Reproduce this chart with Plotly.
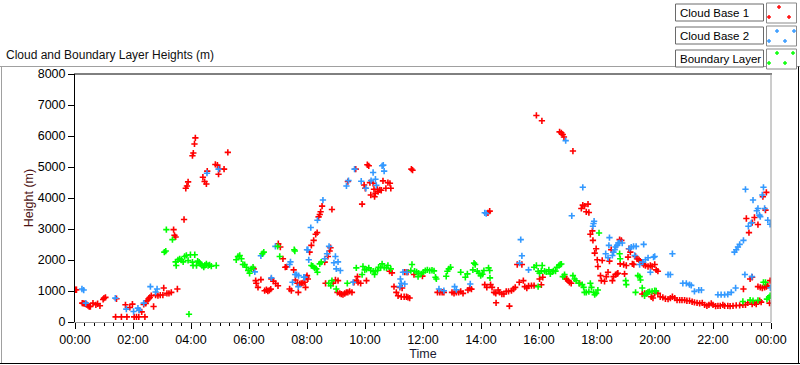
import plotly.graph_objects as go

# ---------------- data (hours since 00:00, height in metres) ----------------
cb1_pts = [
(0.02,1040),(0.05,1040),
(0.25,610),(0.29,600),(0.33,590),(0.37,580),(0.41,560),(0.45,530),(0.49,500),(0.53,500),
(0.62,610),(0.72,555),(0.78,588),(0.86,523),(0.97,728),(1.0,770),(1.05,793),
(1.4,165),(1.43,750),(1.6,165),(1.74,555),(1.79,165),(1.89,469),(1.98,577),(2.04,165),(2.12,165),
(2.2,165),(2.3,328),(2.37,566),(2.41,165),(2.44,600),(2.48,685),(2.53,740),(2.58,790),(2.63,847),
(2.71,500),(2.78,870),(2.86,850),(2.94,870),(3.03,870),(3.06,1096),(3.17,923),(3.24,923),(3.32,956),
(3.4,2981),(3.43,2797),(3.47,2743),(3.53,1064),(3.76,3306),(3.82,4313),(3.86,4389),(3.9,4519),
(4.05,5364),(4.08,5450),(4.12,5743),(4.15,5938),(4.41,4670),(4.47,4530),(4.53,4454),(4.56,4866),
(4.84,5082),(4.91,5060),(4.95,4768),(4.99,4930),(5.14,4930),(5.27,5472),
(6.16,1714),(6.23,1335),(6.25,1248),(6.31,1118),(6.41,1367),(6.54,1010),(6.6,1040),(6.65,1000),
(6.7,1020),(6.75,1060),(6.77,1390),(6.84,1320),(6.92,1240),(7.0,1170),(7.01,2526),(7.08,2418),
(7.17,2039),(7.25,1768),(7.3,1780),(7.4,1064),(7.46,1010),(7.54,1681),(7.6,1357),(7.67,1248),
(7.7,955),(7.75,1227),(7.8,1248),(7.86,1260),(7.92,1281),(7.95,1118),(7.98,1443),(8.0,1497),
(8.03,1389),(8.09,2255),(8.15,2472),(8.23,2634),(8.3,2829),(8.35,2883),(8.4,3392),(8.44,3468),
(8.47,3555),(8.52,3739),(8.61,1930),(8.64,1248),(8.72,2115),(8.78,2288),(8.81,2396),(8.86,3631),
(8.9,1248),(8.98,1357),(9.05,955),(9.07,1335),(9.13,923),(9.18,900),(9.24,880),(9.3,920),(9.36,955),
(9.41,4530),(9.41,955),(9.47,988),(9.55,955),(9.62,1281),(9.68,4930),(9.7,1335),(9.74,1465),
(9.76,1281),(9.85,1248),(9.9,3804),(9.97,4421),(10.01,4313),(10.05,1335),(10.08,5072),(10.13,5039),
(10.17,4497),(10.2,4097),(10.28,4475),(10.31,4280),(10.33,4042),(10.36,4151),(10.43,4280),
(10.45,4205),(10.51,4259),(10.56,4250),(10.62,4551),(10.72,4313),(10.79,4497),(10.85,1638),
(10.86,4475),(10.89,4313),(10.93,1584),(11.0,1140),(11.08,955),(11.14,847),(11.2,1118),(11.25,815),
(11.28,1096),(11.35,815),(11.37,1606),(11.43,1606),(11.43,815),(11.48,793),(11.48,1606),(11.54,772),
(11.6,4930),(11.64,4897),(11.69,1530),(11.98,1480),
(12.5,955),(12.58,955),(12.66,960),(12.72,955),(13.0,955),(13.07,923),(13.15,955),(13.23,955),
(13.3,988),(13.38,923),(13.55,1031),(13.61,1085),(13.67,1060),(14.13,1205),(14.2,1118),(14.24,3523),
(14.3,3577),(14.33,1205),(14.38,1118),(14.45,955),(14.51,923),(14.52,620),(14.59,1031),(14.64,955),
(14.72,901),(14.79,901),(14.87,988),(14.95,988),(14.98,512),(15.05,1010),(15.12,1064),(15.18,1118),
(15.25,1855),(15.32,1281),(15.41,1855),(15.46,1335),(15.51,1140),(15.58,1096),(15.64,1161),
(15.74,1172),(15.83,1172),(15.91,6663),(16.02,1389),(16.08,1200),(16.1,6490),(16.13,1443),
(16.71,6132),(16.77,6100),(16.82,6050),(16.86,5970),(16.88,1465),(16.94,1389),(17.0,1335),
(17.05,1281),(17.11,1248),(17.17,5515),(17.4,1248),(17.46,3663),(17.51,3771),(17.57,3740),
(17.63,3555),(17.69,3804),(17.72,3533),(17.77,2829),(17.84,2938),(17.86,2634),(17.92,2223),
(17.97,2364),(18.01,2006),(18.03,1790),(18.12,1497),(18.15,1335),(18.18,1985),(18.26,1313),
(18.32,1465),(18.38,1606),(18.43,1963),(18.49,2331),(18.53,1335),(18.57,1465),(18.64,1530),
(18.69,1550),(18.72,1573),(18.78,2656),(18.8,1876),(18.84,2634),(18.92,1855),(18.95,1552),
(19.01,1822),(19.07,2093),(19.1,2364),(19.15,2255),(19.22,1876),(19.27,1855),(19.33,2115),
(19.38,2039),(19.45,2006),(19.49,1963),(19.56,1898),(19.56,901),(19.61,1855),(19.64,923),
(19.67,1822),(19.72,923),(19.76,1790),(19.84,1822),(19.87,815),(19.9,1790),(19.93,772),(19.99,1855),
(19.99,923),(20.04,1681),(20.1,1638),(20.1,923),(20.18,815),(20.27,793),(20.36,750),(20.45,739),
(20.53,772),(20.6,815),(20.68,772),(20.76,707),(20.85,707),(20.93,707),(21.02,707),(21.1,685),
(21.19,685),(21.28,653),(21.36,631),(21.45,620),(21.54,598),(21.63,620),(21.71,555),(21.79,523),
(21.86,555),(21.94,598),(22.0,555),(22.09,512),(22.17,523),(22.25,523),(22.34,555),(22.4,523),
(22.51,523),(22.59,512),(22.69,523),(22.8,534),(22.92,534),(23.03,555),(23.05,1064),(23.12,555),
(23.15,3338),(23.2,620),(23.24,2883),(23.28,1389),(23.35,1443),(23.35,577),(23.35,3208),(23.43,3371),
(23.43,620),(23.49,577),(23.55,1140),(23.55,3143),(23.61,685),(23.63,1120),(23.66,642),(23.7,1096),
(23.72,4042),(23.78,1118),(23.81,3609),(23.84,4183),(23.84,1140),(23.89,1172),(23.95,609),(23.97,1335),
]

cb2_pts = [
(0.24,1064),(0.3,1031),(0.37,609),(1.39,770),(1.77,414),(2.02,338),(2.17,447),(2.21,382),(2.37,609),
(2.6,1140),(2.78,966),(2.83,1064),(4.55,4800),(4.95,4930),(6.2,1616),(6.41,2136),(6.77,1422),
(6.91,2440),(7.4,1855),(7.43,1940),(7.5,1281),(7.59,1530),(7.64,1530),(7.7,1140),(7.71,1497),
(7.89,1443),(7.92,1443),(8.0,2331),(8.03,2331),(8.06,2006),(8.13,3046),(8.36,3284),(8.55,3934),
(8.61,2039),(8.69,2201),(8.76,2440),(8.93,1909),(8.98,2115),(9.01,1714),(9.07,1941),(9.15,1660),
(9.36,4389),(9.43,4562),(9.59,1281),(9.64,4930),(9.87,4540),(10.03,4313),(10.21,4562),(10.28,4822),
(10.36,4605),(10.39,4410),(10.59,5039),(10.63,5060),(10.66,4866),(11.2,1140),(11.22,1389),
(11.25,1248),(11.31,1606),(11.37,1227),(11.45,1606),(12.55,1064),(12.72,1010),(13.09,1140),
(13.15,1042),(13.63,1227),(14.13,3523),(14.18,3500),(15.33,1898),(15.37,2656),(15.41,2136),
(15.64,1681),(16.92,5851),(17.13,3425),(17.51,4345),(17.86,3089),(17.88,3176),(17.9,3250),
(18.3,2201),(18.38,2071),(18.41,2472),(18.43,2721),(18.53,2147),(18.57,2255),(18.61,2331),
(18.64,2418),(18.69,2472),(18.73,2548),(18.78,2560),(18.87,2548),(19.12,2364),(19.18,2418),
(19.26,2440),(19.3,2147),(19.35,2440),(19.47,1855),(19.58,1930),(19.61,2505),(19.67,2006),
(19.76,2071),(19.84,1606),(19.95,2093),(19.99,2115),(20.45,1530),(20.53,1530),(20.6,2201),
(20.96,1248),(21.08,1248),(21.19,1205),(21.25,1180),(21.36,988),(21.51,1031),(21.6,1031),
(22.17,880),(22.28,880),(22.4,880),(22.51,890),(22.63,955),(22.74,2255),(22.78,1096),(22.8,2331),
(22.86,2418),(22.92,2505),(23.05,2634),(23.1,1530),(23.12,4280),(23.22,3089),(23.32,3197),
(23.34,1465),(23.38,3934),(23.51,3588),(23.55,3663),(23.6,3447),(23.63,3400),(23.7,4097),
(23.74,4345),(23.78,3663),(23.89,3284),(23.97,3154),(23.98,1105),
]

bl_pts = [
(3.08,2255),(3.13,2288),(3.15,2981),(3.36,2656),(3.47,1941),(3.49,1822),(3.55,2006),(3.61,2039),
(3.67,2000),(3.73,1941),(3.78,2115),(3.84,2147),(3.9,1985),(3.93,252),(3.98,2169),(4.05,1930),
(4.07,1822),(4.13,2169),(4.19,1822),(4.23,1963),(4.28,1930),(4.32,1876),(4.38,1822),(4.44,1768),
(4.48,1830),(4.53,1876),(4.59,1822),(4.64,1840),(4.7,1800),(4.87,1822),(5.56,2006),(5.62,2115),
(5.68,2147),(5.74,2039),(5.79,1855),(5.85,1850),(5.91,1768),(5.97,1660),(6.02,1573),(6.08,1714),
(6.14,1768),(6.46,2201),(6.51,2255),(6.99,2440),(7.06,2115),(7.56,2331),(7.58,2290),(8.15,1822),
(8.2,1800),(8.26,1746),(8.32,1714),(8.36,1606),(8.44,1876),(8.49,1930),(8.75,1248),(8.82,1172),
(8.86,1335),(9.01,1064),(9.39,1248),(9.7,1746),(9.9,1530),(9.93,1790),(9.99,1681),(10.05,1700),
(10.13,1746),(10.2,1660),(10.28,1638),(10.33,1530),(10.36,1650),(10.43,1660),(10.47,1768),
(10.54,1750),(10.59,1876),(10.66,1760),(10.74,1750),(10.79,1822),(10.89,1714),(11.58,1660),
(11.62,1855),(11.71,1638),(11.78,1616),(11.83,1465),(11.85,1573),(11.94,1552),(12.01,1606),
(12.08,1660),(12.15,1681),(12.23,1660),(12.31,1670),(12.38,1650),(12.43,1443),(12.46,1389),
(12.8,1476),(12.84,1638),(12.89,1714),(12.95,1768),(13.3,1606),(13.46,1443),(13.53,1552),
(13.72,1681),(13.76,1898),(13.8,1855),(13.87,1638),(13.93,1573),(13.99,1497),(14.05,1540),
(14.1,1660),(14.26,1746),(14.3,1660),(14.31,1422),(15.83,1768),(15.91,1822),(15.97,1638),
(15.97,1140),(16.02,1573),(16.08,1650),(16.11,1822),(16.19,1640),(16.25,1620),(16.34,1681),
(16.39,1552),(16.46,1620),(16.5,1650),(16.57,1640),(16.62,1768),(16.69,1822),(16.73,1855),
(16.77,1870),(16.82,1465),(16.88,1530),(17.17,1497),(17.23,1389),(17.28,1330),(17.38,1248),
(17.49,1205),(17.54,1118),(17.57,955),(17.63,955),(17.72,980),(17.77,1248),(17.81,1118),(17.88,955),
(17.92,880),(17.97,923),(18.03,1031),(18.07,2873),(18.78,2201),(18.8,2039),(18.99,1335),(19.01,1205),
(19.33,955),(19.41,1497),(19.47,1465),(19.5,1357),(19.56,1096),(19.64,847),(19.7,923),(19.76,960),
(19.81,980),(19.9,988),(19.99,1010),(20.04,1000),(23.03,663),(23.28,707),(23.38,685),(23.55,700),
(23.74,1281),(23.81,1281),(23.86,739),(23.93,793),(23.97,847),
]

series_names = ["Cloud Base 1", "Cloud Base 2", "Boundary Layer"]
series_colors = ["#ff0000", "#3399ff", "#00ff00"]
x_tick_vals = [0, 2, 4, 6, 8, 10, 12, 14, 16, 18, 20, 22, 24]
x_tick_text = ["00:00", "02:00", "04:00", "06:00", "08:00", "10:00", "12:00",
               "14:00", "16:00", "18:00", "20:00", "22:00", "00:00"]
y_tick_vals = [0, 1000, 2000, 3000, 4000, 5000, 6000, 7000, 8000]

# ---------------- figure ----------------
W, H = 800, 365
L, R, T, B = 75, 29, 74, 43
PW, PH = W - L - R, H - T - B

def px(x):
    return (x - L) / PW

def py(y):
    return (H - B - y) / PH

fig = go.Figure()
for pts, name, col in zip([cb1_pts, cb2_pts, bl_pts], series_names, series_colors):
    fig.add_trace(go.Scatter(
        x=[p[0] for p in pts], y=[p[1] for p in pts], mode="markers", name=name,
        marker=dict(symbol="cross-thin", size=4.5, color=col, line=dict(width=1.6, color=col)),
        showlegend=False))

FONT = "Liberation Sans, Arial, sans-serif"
shapes = []
# plot frame: top/left black, right/bottom grey
shapes.append(dict(type="line", xref="paper", yref="paper", x0=px(74), x1=px(772), y0=1, y1=1,
                   line=dict(color="#000000", width=1)))
shapes.append(dict(type="line", xref="paper", yref="paper", x0=1, x1=1, y0=0, y1=1,
                   line=dict(color="#9a9a9a", width=1)))
# outer panel
shapes.append(dict(type="line", xref="paper", yref="paper", x0=px(0), x1=px(800), y0=py(66.5), y1=py(66.5),
                   line=dict(color="#a0a0a0", width=1)))
shapes.append(dict(type="line", xref="paper", yref="paper", x0=px(1.5), x1=px(1.5), y0=py(66.5), y1=py(364),
                   line=dict(color="#a0a0a0", width=1)))
shapes.append(dict(type="line", xref="paper", yref="paper", x0=px(798.5), x1=px(798.5), y0=py(66.5), y1=py(364),
                   line=dict(color="#000000", width=1)))
shapes.append(dict(type="line", xref="paper", yref="paper", x0=px(0), x1=px(800), y0=py(363.5), y1=py(363.5),
                   line=dict(color="#000000", width=1)))

annotations = []
# legend boxes
rows = [(4, 21), (27, 44), (50, 67)]
cross_pos = [
    [(779, 7), (769, 17), (789, 17)],
    [(777, 31), (794, 31), (769, 41), (785, 41)],
    [(777, 53), (793, 53), (769, 63), (785, 63)],
]
for (y0, y1), name, col, crosses in zip(rows, series_names, series_colors, cross_pos):
    shapes.append(dict(type="rect", xref="paper", yref="paper", x0=px(675.5), x1=px(763.5),
                       y0=py(y0), y1=py(y1), line=dict(color="#6a6a6a", width=1), fillcolor="#ffffff"))
    shapes.append(dict(type="rect", xref="paper", yref="paper", x0=px(766.5), x1=px(796.5),
                       y0=py(y0 - 1), y1=py(y1 + 2), line=dict(color="#8a8a8a", width=1), fillcolor="#ffffff"))
    annotations.append(dict(xref="paper", yref="paper", x=px(678), y=py((y0 + y1) / 2 + 0.5),
                            text=name, showarrow=False, xanchor="left", yanchor="middle",
                            font=dict(family=FONT, size=11.5, color="#000000")))
    for cx, cy in crosses:
        shapes.append(dict(type="line", xref="paper", yref="paper", x0=px(cx - 2), x1=px(cx + 2),
                           y0=py(cy), y1=py(cy), line=dict(color=col, width=1.4)))
        shapes.append(dict(type="line", xref="paper", yref="paper", x0=px(cx), x1=px(cx),
                           y0=py(cy - 2), y1=py(cy + 2), line=dict(color=col, width=1.4)))

annotations.append(dict(xref="paper", yref="paper", x=px(4), y=py(55), text="Cloud and Boundary Layer Heights (m)",
                        showarrow=False, xanchor="left", yanchor="middle",
                        font=dict(family=FONT, size=12, color="#101010")))

fig.update_layout(
    width=W, height=H, margin=dict(l=L, r=R, t=T, b=B, autoexpand=False),
    paper_bgcolor="#ffffff", plot_bgcolor="#ffffff",
    shapes=shapes, annotations=annotations,
    font=dict(family=FONT, size=12, color="#000000"),
    xaxis=dict(range=[0, 24], tickvals=x_tick_vals, ticktext=x_tick_text, showgrid=False, zeroline=False,
               automargin=False,
               showline=True, linecolor="#9a9a9a", linewidth=1, ticks="outside", ticklen=6, tickcolor="#000000",
               minor=dict(dtick=1/3, tick0=0, ticks="outside", ticklen=3, tickcolor="#000000", showgrid=False),
               tickfont=dict(family=FONT, size=12.5, color="#000000"),
               title=dict(text="Time", standoff=2, font=dict(family=FONT, size=12.5, color="#1a1a33"))),
    yaxis=dict(range=[0, 8000], tickvals=y_tick_vals, showgrid=False, zeroline=False,
               automargin=False,
               showline=True, linecolor="#000000", linewidth=1, ticks="outside", ticklen=6, tickcolor="#000000",
               tickfont=dict(family=FONT, size=12.5, color="#000000"),
               title=dict(text="Height (m)", standoff=1, font=dict(family=FONT, size=12.5, color="#4d1414"))),
)

fig.write_html("out.html", config={"displayModeBar": False},
               post_script="document.body.style.margin='0';document.body.style.overflow='hidden';")
